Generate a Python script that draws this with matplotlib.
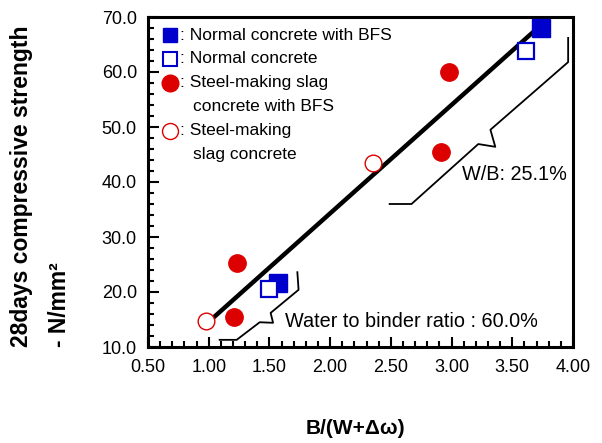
import numpy as np
import matplotlib
matplotlib.use('Agg')
import matplotlib.pyplot as plt
from matplotlib.ticker import MultipleLocator, FormatStrFormatter

plt.rcParams['font.family'] = ['Liberation Sans', 'DejaVu Sans']

# data
normal_bfs_x = [1.57, 3.74]
normal_bfs_y = [21.6, 68.0]
normal_x = [1.50, 3.61]
normal_y = [20.5, 63.8]
slag_bfs_x = [1.23, 1.21, 2.91, 2.98]
slag_bfs_y = [25.2, 15.5, 45.4, 60.0]
slag_x = [0.98, 2.35]
slag_y = [14.8, 43.5]

fit_x = [1.03, 3.72]
fit_slope = 19.72
fit_icpt = -5.14

# hand-drawn brackets
wb60_x = [1.09, 1.23, 1.42, 1.53, 1.51, 1.74, 1.73]
wb60_y = [11.3, 11.3, 14.5, 14.4, 16.2, 20.4, 23.6]
wb25_x = [2.49, 2.67, 3.22, 3.36, 3.32, 3.96, 3.96]
wb25_y = [36.0, 36.0, 46.9, 46.4, 49.5, 61.8, 66.2]

legend_labels = [': Normal concrete with BFS', ': Normal concrete',
                 ': Steel-making slag', ': Steel-making']
legend_second = ['', '', 'concrete with BFS', 'slag concrete']

BLUE = '#0000cc'
RED = '#dd0000'

fig = plt.figure(figsize=(6.02, 4.43), dpi=100)
ax = fig.add_axes([148/602, 1 - 347/443, 425/602, 330/443])

ax.set_xlim(0.5, 4.0)
ax.set_ylim(10, 70)

fx = np.array(fit_x)
ax.plot(fx, fit_slope * fx + fit_icpt, color='black', lw=3.2, solid_capstyle='butt', zorder=2)
ax.plot(wb60_x, wb60_y, color='black', lw=1.3, zorder=2)
ax.plot(wb25_x, wb25_y, color='black', lw=1.3, zorder=2)

ax.plot(normal_bfs_x, normal_bfs_y, 's', color=BLUE, ms=12.5, mec=BLUE, zorder=3)
ax.plot(normal_x, normal_y, 's', mfc='white', mec=BLUE, mew=1.6, ms=11.5, zorder=3)
ax.plot(slag_bfs_x, slag_bfs_y, 'o', color=RED, ms=12.5, mec=RED, zorder=3)
ax.plot(slag_x, slag_y, 'o', mfc='white', mec=RED, mew=1.0, ms=12, zorder=3)

# custom legend
styles = [dict(marker='s', color=BLUE, ms=10),
          dict(marker='s', mfc='white', mec=BLUE, mew=1.5, ms=9.5),
          dict(marker='o', color=RED, ms=12),
          dict(marker='o', mfc='white', mec=RED, mew=1.0, ms=11.5)]
rows = [0.945, 0.873, 0.80, 0.655]
for st, lab, lab2, yy in zip(styles, legend_labels, legend_second, rows):
    ax.plot([0.052], [yy], transform=ax.transAxes, ls='none', clip_on=False, zorder=4, **st)
    ax.text(0.075, yy, lab, transform=ax.transAxes, fontsize=12.5, va='center', ha='left')
    if lab2:
        ax.text(0.106, yy - 0.0727, lab2, transform=ax.transAxes, fontsize=12.5,
                va='center', ha='left')

ax.text(3.086, 41.3, 'W/B: 25.1%', fontsize=14.3, va='center', ha='left')
ax.text(1.628, 14.7, 'Water to binder ratio : 60.0%', fontsize=14.3, va='center', ha='left')

ax.xaxis.set_major_locator(MultipleLocator(0.5))
ax.xaxis.set_minor_locator(MultipleLocator(0.1))
ax.yaxis.set_major_locator(MultipleLocator(10))
ax.yaxis.set_minor_locator(MultipleLocator(2))
ax.xaxis.set_major_formatter(FormatStrFormatter('%.2f'))
ax.yaxis.set_major_formatter(FormatStrFormatter('%.1f'))

ax.tick_params(which='both', direction='in', top=False, right=False, width=1.5, labelsize=13)
ax.tick_params(axis='y', which='major', length=8, pad=8)
ax.tick_params(axis='y', which='minor', length=4.5)
ax.tick_params(axis='x', which='major', length=7.5, pad=9)
ax.tick_params(axis='x', which='minor', length=4)
for sp in ax.spines.values():
    sp.set_linewidth(2.2)

fig.text(355/602, 1 - 428/443, 'B/(W+Δω)', fontsize=15, fontweight='bold',
         ha='center', va='center')
fig.text(22/602, 1 - 347/443, '28days compressive strength', fontsize=16.5, fontweight='bold',
         rotation=90, ha='center', va='bottom')
fig.text(60/602, 1 - 347/443, '- N/mm²', fontsize=16.5, fontweight='bold',
         rotation=90, ha='center', va='bottom')

fig.savefig('out.png', dpi=100)
